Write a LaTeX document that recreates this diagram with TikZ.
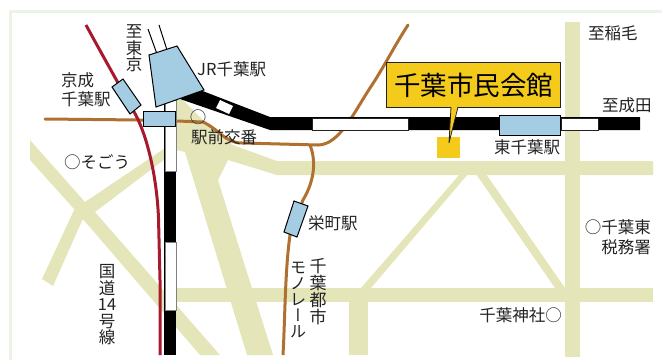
\documentclass[tikz,border=0pt]{standalone}
\usepackage{fontspec}
\setmainfont{Noto Sans CJK JP}
\newfontfamily\vertfont[RawFeature={+vert}]{Noto Sans CJK JP}
\definecolor{road}{HTML}{E4E6BA}
\definecolor{frameg}{HTML}{EAF4E6}
\definecolor{stn}{HTML}{A4CDE3}
\definecolor{mono}{HTML}{B07030}
\definecolor{keisei}{HTML}{A6192E}
\definecolor{gold}{HTML}{F5CB1B}
\definecolor{ink}{HTML}{222222}
\tikzset{
  x=1pt,y=-1pt,
  label15/.style={text=ink,inner sep=0pt,font=\fontsize{16.5}{19.5}\selectfont,align=center},
  labelL/.style={label15,align=left},
  roadfill/.style={fill=road,draw=none},
  trackwhite/.style={draw=ink,line width=1pt,fill=white},
  station/.style={draw=black,line width=1pt,fill=stn},
  monoline/.style={draw=mono,line width=3pt,line cap=round},
  keiseiline/.style={draw=keisei,line width=3pt},
}
\begin{document}
\begin{tikzpicture}
\useasboundingbox (0,0) rectangle (662,360);
% frame
\draw[frameg,line width=3pt] (10.5,360) -- (10.5,11) -- (662,11);
% roads
\fill[roadfill] (177,100) -- (183,100) -- (205,122) -- (233,145) -- (277,161) -- (653,161) -- (653,175) -- (277,175) -- (228,160) -- (218,180) -- (273,355) -- (247,355) -- (185,152) -- (177,150) -- cycle;
\fill[roadfill] (30,140) -- (85,202) -- (95,212) -- (220,355) -- (200,355) -- (75,210) -- (30,160) -- cycle;
\fill[roadfill] (85,202) -- (177,140) -- (177,150) -- (95,212) -- (85,214) -- cycle;
\fill[roadfill] (75,208) -- (85,214) -- (53,286) -- (42,279) -- cycle;
\fill[roadfill] (177,288) rectangle (653,302);
\fill[roadfill] (565,22) rectangle (580,357);
\fill[roadfill] (349,300) rectangle (368,355);
\fill[roadfill] (361,288) -- (460,174) -- (468,174) -- (371,288) -- cycle;
\fill[roadfill] (476,174) -- (486,174) -- (565,288) -- (555,288) -- cycle;
% monorail
\draw[monoline] (45,119) -- (140,120) -- (177,121) -- (203,122) .. controls (220,130) and (225,143) .. (242,143) -- (318,145) .. controls (340,145) and (355,110) .. (372,85) .. controls (385,65) and (395,45) .. (408,25);
\draw[monoline,line cap=butt] (310,145) .. controls (316,160) and (315,180) .. (303,200) -- (290,235) .. controls (285,270) and (285,320) .. (283,355);
% keisei
\draw[keiseiline] (86,25) .. controls (105,60) and (125,95) .. (133,110) .. controls (148,135) and (157,180) .. (158.5,218) -- (160,280) -- (160,355);
% tracks
\fill[black] (164,100) rectangle (176,355);
\draw[trackwhite,draw=gray] (165,100) rectangle (176,171);
\draw[trackwhite,draw=gray] (165,242) rectangle (176,310);
\draw[black,line width=1.5pt] (164.5,100) -- (164.5,171);
\fill[black] (200,90) -- (270,117) -- (640,117) -- (640,130) -- (270,130) -- (180,99) -- cycle;
\draw[trackwhite,line width=.8pt] (312,118) rectangle (408,130);
\draw[trackwhite,line width=.8pt] (561,118) rectangle (598,130);
\draw[trackwhite,draw=none] (220,100) -- (233,106) -- (229,114) -- (216,108) -- cycle;
% to Tokyo
\draw[black,line width=1pt] (148,29) -- (157,54);
\draw[black,line width=1pt] (159,25) -- (167,50);
% stations
\draw[station] (149,55) -- (177,46) -- (204,90) -- (156,107) -- cycle;
\draw[station] (112,87) -- (123,79) -- (141,105) -- (130,114) -- cycle;
\draw[station] (143,111.5) rectangle (175,126);
\draw[station] (294,201) -- (308,206) -- (297,237) -- (284,232) -- cycle;
\draw[station] (499,115) rectangle (560,135);
% venue
\fill[gold] (437,137) rectangle (460,158);
\node[draw=ink,fill=gold,line width=1pt,minimum width=174pt,minimum height=45pt,inner sep=0pt,text=black,font=\fontsize{26.5}{30}\selectfont,anchor=north west] (venue) at (386,62) {千葉市民会館};
\fill[gold] (451,106) -- (458,106) -- (449,143) -- cycle;
\draw[ink,line width=.8pt] (451,107) -- (449,143) -- (458,107);
% labels
\node[label15] (toTokyo) at (134,48.5) {至\\[-3pt]東\\[-3pt]京};
\node[label15,anchor=west] (jr) at (197,69) {JR千葉駅};
\node[labelL,anchor=west] (keiseiSt) at (61,89.5) {京成\\千葉駅};
\node[label15,anchor=center] (koban) at (198,117) {○};
\node[label15,anchor=west] (ekimae) at (191,137) {駅前交番};
\node[label15,anchor=west] (sogo) at (64,162) {○そごう};
\node[label15,anchor=west] (sakae) at (308,223) {栄町駅};
\node[label15,font=\fontsize{17}{17}\selectfont] (chiba) at (318,291.5) {千\\葉\\都\\市};
\node[label15,font=\fontsize{16}{16}\selectfont] (monorail) at (298,300) {モ\\ノ\\レ\\{\vertfont ー}\\ル};
\node[label15,font=\fontsize{16.5}{16.5}\selectfont] (kokudo) at (107,305) {国\\道\\14\\号\\線};
\node[label15,anchor=west] (inage) at (588,33) {至稲毛};
\node[label15,anchor=west] (narita) at (602,105) {至成田};
\node[label15,anchor=west] (higashi) at (494,147) {東千葉駅};
\node[labelL,anchor=east,align=right] (zeimu) at (651,237) {○千葉東\\税務署};
\node[label15,anchor=east] (jinja) at (562,315) {千葉神社○};
\end{tikzpicture}
\end{document}
